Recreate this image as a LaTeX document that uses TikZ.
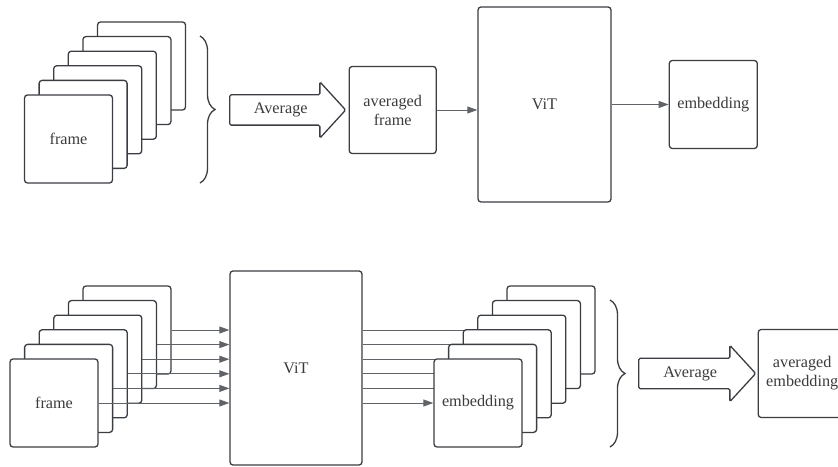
\documentclass[tikz,border=0pt]{standalone}
\usepackage{fontspec}
\setmainfont{Liberation Serif}
\usetikzlibrary{calc}
\usetikzlibrary{positioning}
\usetikzlibrary{arrows.meta}
\usetikzlibrary{shapes.arrows}
\usetikzlibrary{decorations.pathreplacing}
\usetikzlibrary{backgrounds}
\definecolor{edgegray}{HTML}{3A3D42}
\definecolor{linegray}{HTML}{5F6368}
\definecolor{textgray}{HTML}{3C3C3C}

\begin{document}
\begin{tikzpicture}[x=1pt, y=1pt, ->, >={Triangle[length=10pt, width=7pt]}, font=\fontsize{16.2}{19}\selectfont, text=textgray]
    \tikzstyle{block}=[draw=edgegray, line width=1.3pt, rounded corners=3pt, fill=white, minimum size=88pt, inner sep=0pt, align=center]
    \tikzstyle{big}=[block, minimum width=133pt, minimum height=195pt]
    \tikzstyle{avg}=[single arrow, draw=edgegray, line width=1.3pt, fill=white, minimum height=116pt, single arrow head extend=13pt, single arrow tip angle=95, text height=10pt, text depth=3pt, inner ysep=8pt, rounded corners=1.5pt, anchor=west]
    \tikzstyle{link}=[draw=linegray, line width=0.8pt]
    \tikzstyle{bracket}=[-, draw=edgegray, line width=1.3pt, decorate, decoration={brace, amplitude=15pt}]

    \useasboundingbox (0,0) rectangle (838,466);

    % top: average the frames, then one ViT pass
    \coordinate (fa) at (68.5, 327);
    \foreach \i in {5,...,1}
        \node[block] (fa\i) at ($(fa)+(14.6*\i, 14.6*\i)$) {};
    \node[block] (fa0) at (fa) {frame};

    \draw[bracket] (200, 430) -- (200, 283);
    \node[avg] (avga) at (229, 356) {Average};
    \node[block, right=2pt of avga, minimum size=87pt] (avgframe) {averaged\\frame};
    \node[big] (vita) at (544.5, 361.5) {ViT};
    \node[block, right=57pt of vita] (emba) {embedding};

    \draw[link] (avgframe.east) -- (avgframe.east -| vita.west);
    \draw[link] (vita.east) -- (emba.west);

    % bottom: ViT on every frame, then average the embeddings
    \coordinate (fb) at (54, 63);
    \foreach \i in {5,...,1}
        \node[block] (fb\i) at ($(fb)+(14.6*\i, 14.6*\i)$) {};
    \node[block] (fb0) at (fb) {frame};

    \node[big, minimum width=132pt, minimum height=194pt] (vitb) at (296, 98) {ViT};
    \foreach \i in {0,...,5}
        \draw[link] (fb\i.east) -- (fb\i.east -| vitb.west);

    \coordinate (eb) at (478, 63);
    \foreach \i in {5,...,1}
        \node[block] (eb\i) at ($(eb)+(14.6*\i, 14.6*\i)$) {};
    \node[block] (eb0) at (eb) {embedding};
    \begin{scope}[on background layer]
        \foreach \i in {0,...,5}
            \draw[link] (eb\i.west -| vitb.east) -- (eb\i.west);
    \end{scope}

    \draw[bracket] (610, 166) -- (610, 19);
    \node[avg, minimum height=117pt] (avgb) at (638, 92.5) {Average};
    \node[block, right=1pt of avgb] (avgemb) {averaged\\embedding};
\end{tikzpicture}
\end{document}
